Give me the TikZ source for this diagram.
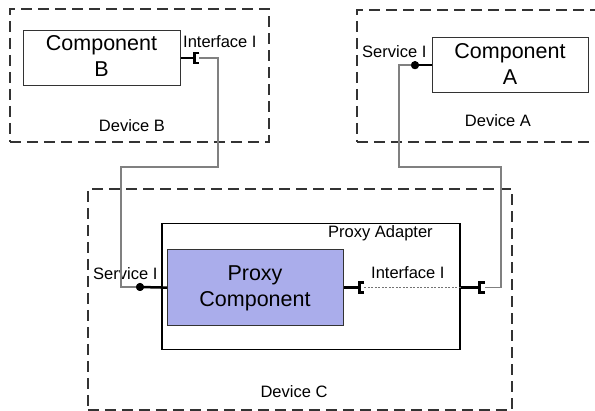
\documentclass[tikz,border=0pt]{standalone}
\usepackage{fontspec}
\setmainfont{Liberation Sans}
\definecolor{proxyfill}{RGB}{170,173,235}
\begin{document}
\begin{tikzpicture}[x=1pt,y=-1pt,
  devbox/.style={draw=black!80, line width=1.7pt, dash pattern=on 11pt off 6pt, inner sep=0pt, anchor=north west},
  compbox/.style={draw=black!80, line width=1.3pt, inner sep=0pt, anchor=north west},
  conn/.style={draw=black!50, line width=1.3pt},
  stub/.style={draw=black, line width=2.5pt},
  ball/.style={circle, fill=black, inner sep=0pt, minimum size=8pt},
  sock/.style={draw=black, line width=2.6pt},
  dotline/.style={draw=black!55, line width=1.1pt, dash pattern=on 2pt off 1.5pt},
  big/.style={font=\fontsize{21.5}{26}\selectfont, align=center, inner sep=0pt},
  small/.style={font=\fontsize{16.5}{19}\selectfont, inner sep=0pt}]
\useasboundingbox (0,0) rectangle (595,411);
\clip (0,0) rectangle (595,411);

% device boxes
\node[devbox, minimum width=259pt, minimum height=133pt] (devB) at (9,8) {};
\node[devbox, minimum width=260pt, minimum height=132pt] (devA) at (356,9) {};
\node[devbox, minimum width=424pt, minimum height=221pt] (devC) at (87,188) {};

% components
\node[compbox, minimum width=157pt, minimum height=55pt] (compB) at (23,30) {};
\node[compbox, minimum width=156pt, minimum height=55pt] (compA) at (432,37) {};
\node[compbox, line width=1.5pt, draw=black, minimum width=298pt, minimum height=126pt] (adapter) at (161,223) {};
\node[compbox, fill=proxyfill, minimum width=176pt, minimum height=76pt] (proxy) at (167,249) {};

% texts
\node[big, anchor=north] (tB) at (101.5,35) {Component\\B};
\node[big, anchor=north] (tA) at (510,43) {Component\\A};
\node[big, anchor=north] (tP) at (255,266) {Proxy\\Component};
\node[small, anchor=base west] (lIB) at (183,48) {Interface I};
\node[small, anchor=base west] (lSA) at (362,58) {Service I};
\node[small, anchor=base] (lDB) at (132,132) {Device B};
\node[small, anchor=base] (lDA) at (498,127) {Device A};
\node[small, anchor=base west] (lPA) at (328,238) {Proxy Adapter};
\node[small, anchor=base west] (lSC) at (93,280) {Service I};
\node[small, anchor=base west] (lIC) at (371,279) {Interface I};
\node[small, anchor=base] (lDC) at (294,398) {Device C};

% connection points
\coordinate (sockB) at ([xshift=13pt]compB.east);
\coordinate (sockBo) at ([xshift=5pt]sockB);
\node[ball] (ballA) at ([xshift=-17pt]compA.west) {};
\node[ball] (ballC) at (140,287) {};
\coordinate (sockP) at ([xshift=15pt]proxy.east);
\coordinate (sockPo) at ([xshift=5pt]sockP);
\coordinate (adR) at (adapter.east |- proxy.east);
\coordinate (sockC) at ([xshift=19pt]adR);
\coordinate (sockCo) at ([xshift=5pt]sockC);
\coordinate (jB1) at (218,167);
\coordinate (jB2) at (121,167);
\coordinate (jA1) at (399,167);
\coordinate (jA2) at (501,167);

% gray connectors
\draw[conn] (sockBo) -| (jB1) -- (jB2) |- (ballC.center);
\draw[conn] (ballA.center) -| (jA1) -- (jA2) |- (sockCo);
\draw[dotline] (sockPo) -- (adR);

% stubs
\draw[stub] (compB.east) -- (sockB);
\draw[stub] (ballA.center) -- (compA.west);
\draw[stub] (ballC.center) -- (proxy.west);
\draw[stub] (proxy.east) -- (sockP);
\draw[stub] (adR) -- (sockC);

% sockets
\draw[sock] (sockB) ++(5,-5) -- ++(-5,0) -- ++(0,10) -- ++(5,0);
\draw[sock] (sockP) ++(5,-5) -- ++(-5,0) -- ++(0,10) -- ++(5,0);
\draw[sock] (sockC) ++(5,-5) -- ++(-5,0) -- ++(0,10) -- ++(5,0);

% balls on top
\node[ball] at (ballA) {};
\node[ball] at (ballC) {};
\end{tikzpicture}
\end{document}
